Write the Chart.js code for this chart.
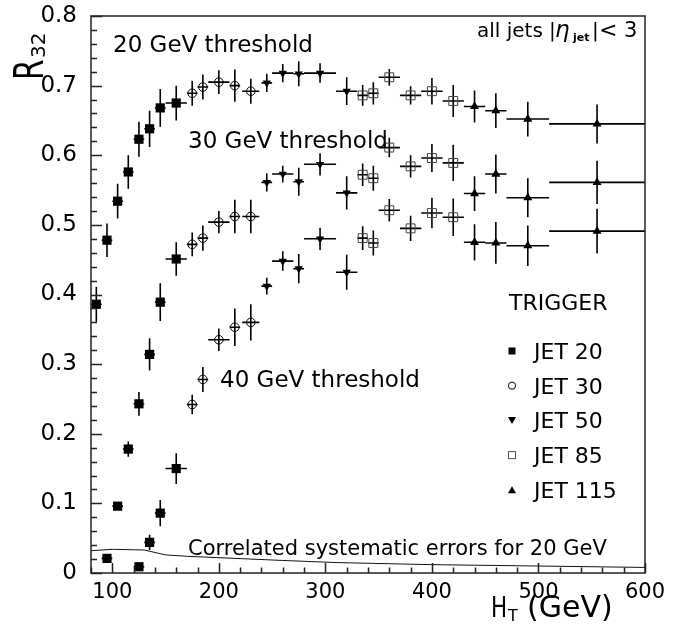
<!DOCTYPE html>
<html>
<head>
<meta charset="utf-8">
<script src="https://cdn.jsdelivr.net/npm/chart.js@4.4.1/dist/chart.umd.min.js"></script>
<style>
  html, body { margin: 0; padding: 0; background: #fff; }
  canvas { display: block; }
</style>
</head>
<body>
<canvas id="chart" width="684" height="631"></canvas>
<script>
const FONT = "DejaVu Sans";

// HT bin centres and half widths (GeV) for each trigger
const htJet20 = [85, 95, 105, 115, 125, 135, 145, 160];
const dhJet20 = [5, 5, 5, 5, 5, 5, 5, 10];
const htJet30 = [175, 185, 200, 215, 230];
const dhJet30 = [5, 5, 10, 5, 8];
const htJet50 = [245, 260, 275, 295, 320];
const dhJet50 = [5, 10, 5, 15, 10];
const htJet85 = [335, 345, 360, 380, 400, 420];
const dhJet85 = [5, 5, 10, 10, 10, 10];
const htJet115 = [440, 460, 490, 555];
const dhJet115 = [10, 10, 20, 45];

// R32 per threshold (20 / 30 / 40 GeV) and its error, null = no point
const r20Jet20 = [0.386, 0.478, 0.534, 0.576, 0.623, 0.638, 0.668, 0.675];
const e20Jet20 = [0.025, 0.024, 0.025, 0.024, 0.025, 0.026, 0.027, 0.025];
const r30Jet20 = [null, 0.021, 0.096, 0.178, 0.243, 0.314, 0.389, 0.451];
const e30Jet20 = [0, 0.003, 0.005, 0.011, 0.017, 0.023, 0.027, 0.024];
const r40Jet20 = [null, null, null, null, 0.009, 0.044, 0.086, 0.150];
const e40Jet20 = [0, 0, 0, 0, 0.003, 0.011, 0.019, 0.022];

const r20Jet30 = [0.689, 0.698, 0.705, 0.700, 0.692];
const e20Jet30 = [0.018, 0.018, 0.017, 0.023, 0.018];
const r30Jet30 = [0.472, 0.481, 0.504, 0.512, 0.512];
const e30Jet30 = [0.017, 0.018, 0.016, 0.024, 0.024];
const r40Jet30 = [0.242, 0.278, 0.335, 0.353, 0.360];
const e40Jet30 = [0.014, 0.018, 0.016, 0.027, 0.026];

const r20Jet50 = [0.704, 0.718, 0.717, 0.718, 0.692];
const e20Jet50 = [0.013, 0.013, 0.018, 0.014, 0.020];
const r30Jet50 = [0.561, 0.573, 0.562, 0.587, 0.546];
const e30Jet50 = [0.013, 0.012, 0.020, 0.016, 0.024];
const r40Jet50 = [0.412, 0.448, 0.437, 0.480, 0.432];
const e40Jet50 = [0.012, 0.014, 0.021, 0.016, 0.025];

const r20Jet85 = [0.686, 0.689, 0.712, 0.686, 0.692, 0.678];
const e20Jet85 = [0.015, 0.016, 0.012, 0.013, 0.019, 0.023];
const r30Jet85 = [0.572, 0.567, 0.611, 0.584, 0.596, 0.589];
const e30Jet85 = [0.016, 0.018, 0.014, 0.016, 0.020, 0.026];
const r40Jet85 = [0.481, 0.474, 0.521, 0.495, 0.517, 0.511];
const e40Jet85 = [0.017, 0.018, 0.016, 0.018, 0.022, 0.027];

const r20Jet115 = [0.670, 0.664, 0.652, 0.645];
const e20Jet115 = [0.023, 0.025, 0.025, 0.028];
const r30Jet115 = [0.545, 0.573, 0.539, 0.561];
const e30Jet115 = [0.025, 0.028, 0.028, 0.031];
const r40Jet115 = [0.475, 0.474, 0.470, 0.491];
const e40Jet115 = [0.026, 0.030, 0.029, 0.032];

// correlated systematic error band for the 20 GeV threshold
const sysHt = [80, 100, 130, 150, 170, 215, 260, 310, 400, 500, 600];
const sysErr = [0.032, 0.034, 0.033, 0.026, 0.024, 0.021, 0.018, 0.015, 0.012, 0.010, 0.008];

const xTicks = [100, 200, 300, 400, 500, 600];
const yTicks = [0, 0.1, 0.2, 0.3, 0.4, 0.5, 0.6, 0.7, 0.8];

const legendNames = ["JET 20", "JET 30", "JET 50", "JET 85", "JET 115"];

function pts(ht, dh, ys, es) {
  const out = [];
  ys.forEach((y, i) => {
    if (y !== null) out.push({ x: ht[i], y: y, xe: dh[i], ye: es[i] });
  });
  return out;
}

function trigger(ht, dh, a, ea, b, eb, c, ec) {
  return pts(ht, dh, a, ea).concat(pts(ht, dh, b, eb), pts(ht, dh, c, ec));
}

const jet20 = trigger(htJet20, dhJet20, r20Jet20, e20Jet20, r30Jet20, e30Jet20, r40Jet20, e40Jet20);
const jet30 = trigger(htJet30, dhJet30, r20Jet30, e20Jet30, r30Jet30, e30Jet30, r40Jet30, e40Jet30);
const jet50 = trigger(htJet50, dhJet50, r20Jet50, e20Jet50, r30Jet50, e30Jet50, r40Jet50, e40Jet50);
const jet85 = trigger(htJet85, dhJet85, r20Jet85, e20Jet85, r30Jet85, e30Jet85, r40Jet85, e40Jet85);
const jet115 = trigger(htJet115, dhJet115, r20Jet115, e20Jet115, r30Jet115, e30Jet115, r40Jet115, e40Jet115);

const errorBars = {
  id: "errorBars",
  beforeDatasetsDraw(chart) {
    const { ctx, chartArea: a, scales: { x, y } } = chart;
    ctx.save();
    ctx.beginPath();
    ctx.rect(a.left, a.top, a.right - a.left, a.bottom - a.top);
    ctx.clip();
    ctx.strokeStyle = "#000";
    ctx.lineWidth = 1.6;
    chart.data.datasets.forEach(ds => {
      if (!ds.bars) return;
      ds.data.forEach(p => {
        const px = x.getPixelForValue(p.x), py = y.getPixelForValue(p.y);
        ctx.beginPath();
        ctx.moveTo(x.getPixelForValue(p.x - p.xe), py);
        ctx.lineTo(x.getPixelForValue(p.x + p.xe), py);
        if (p.ye > 0) {
          ctx.moveTo(px, y.getPixelForValue(p.y - p.ye));
          ctx.lineTo(px, y.getPixelForValue(p.y + p.ye));
        }
        ctx.stroke();
      });
    });
    ctx.restore();
  }
};

function marker(ctx, kind, x, y) {
  ctx.save();
  ctx.fillStyle = "#000";
  ctx.strokeStyle = "#000";
  ctx.lineWidth = 1;
  ctx.beginPath();
  if (kind === 0) {
    ctx.fillRect(x - 3.5, y - 3.5, 7, 7);
  } else if (kind === 1) {
    ctx.arc(x, y, 3.6, 0, Math.PI * 2);
    ctx.stroke();
  } else if (kind === 2) {
    ctx.moveTo(x - 4, y - 3.5); ctx.lineTo(x + 4, y - 3.5); ctx.lineTo(x, y + 3.5);
    ctx.closePath(); ctx.fill();
  } else if (kind === 3) {
    ctx.strokeStyle = "#555";
    ctx.strokeRect(x - 3.5, y - 3.5, 7, 7);
  } else {
    ctx.moveTo(x - 4, y + 3.5); ctx.lineTo(x + 4, y + 3.5); ctx.lineTo(x, y - 3.5);
    ctx.closePath(); ctx.fill();
  }
  ctx.restore();
}

function text(ctx, s, x, y, size, extra) {
  ctx.font = (extra || "") + " " + size + "px '" + FONT + "'";
  ctx.fillText(s, x, y);
}

const decorations = {
  id: "decorations",
  afterDatasetsDraw(chart) {
    const { ctx, chartArea: a, scales: { x, y } } = chart;
    ctx.save();
    ctx.strokeStyle = "#222";
    ctx.lineWidth = 1.5;
    ctx.strokeRect(a.left, a.top, a.right - a.left, a.bottom - a.top);
    ctx.beginPath();
    for (let v = 80; v <= 600; v += 20) {
      const px = Math.round(x.getPixelForValue(v)) + 0.5;
      const len = v % 100 === 0 ? 10 : 5.5;
      ctx.moveTo(px, a.bottom);
      ctx.lineTo(px, a.bottom - len);
    }
    for (let k = 0; k <= 40; k++) {
      const py = Math.round(y.getPixelForValue(k * 0.02)) + 0.5;
      const len = k % 5 === 0 ? 11 : 6;
      ctx.moveTo(a.left, py);
      ctx.lineTo(a.left + len, py);
    }
    ctx.stroke();
    ctx.restore();
  },
  afterDraw(chart) {
    const ctx = chart.ctx;
    ctx.save();
    ctx.fillStyle = "#000";
    ctx.textBaseline = "alphabetic";
    ctx.textAlign = "left";

    text(ctx, "20 GeV threshold", 113, 52, 23);
    text(ctx, "30 GeV threshold", 188, 148, 23);
    text(ctx, "40 GeV threshold", 220, 387, 23);
    text(ctx, "Correlated systematic errors for 20 GeV", 188, 555, 21);

    // all jets |eta_jet| < 3
    text(ctx, "all jets", 477, 37, 20);
    text(ctx, "|", 549, 37, 20);
    text(ctx, "\u03b7", 555, 37, 23, "italic");
    text(ctx, "jet", 573, 41, 11, "bold");
    text(ctx, "|", 592, 37, 20);
    text(ctx, "<", 599, 37, 22);
    text(ctx, "3", 624, 37, 21);

    // legend
    text(ctx, "TRIGGER", 509, 310, 22);
    legendNames.forEach((name, i) => {
      const yy = 359 + i * 34.7;
      marker(ctx, i, 512, yy - 8);
      text(ctx, name, 534, yy, 22);
    });

    // y axis title R_32
    ctx.save();
    ctx.translate(43, 80);
    ctx.rotate(-Math.PI / 2);
    ctx.save();
    ctx.scale(0.74, 1);
    text(ctx, "R", 0, 0, 40);
    ctx.restore();
    text(ctx, "32", 22, 2, 20);
    ctx.restore();

    // x axis title H_T (GeV)
    ctx.save();
    ctx.translate(491, 617);
    ctx.scale(0.74, 1);
    text(ctx, "H", 0, 0, 29);
    ctx.restore();
    text(ctx, "T", 508, 621, 16);
    text(ctx, "(GeV)", 527, 617, 30);
    ctx.restore();
  }
};

new Chart(document.getElementById("chart"), {
  type: "scatter",
  data: {
    datasets: [
      { label: "sys", type: "line", data: sysHt.map((v, i) => ({ x: v, y: sysErr[i] })),
        borderColor: "#111", borderWidth: 1, pointRadius: 0, fill: false, tension: 0 },
      { label: legendNames[0], data: jet20, bars: true, pointStyle: "rect", radius: 6.5,
        backgroundColor: "#000", borderColor: "#000", borderWidth: 0 },
      { label: legendNames[1], data: jet30, bars: true, pointStyle: "circle", radius: 4.3,
        backgroundColor: "rgba(0,0,0,0)", borderColor: "#000", borderWidth: 1 },
      { label: legendNames[2], data: jet50, bars: true, pointStyle: "triangle", rotation: 180, radius: 4.8,
        backgroundColor: "#000", borderColor: "#000", borderWidth: 0 },
      { label: legendNames[3], data: jet85, bars: true, pointStyle: "rect", radius: 6.3,
        backgroundColor: "rgba(0,0,0,0)", borderColor: "#444", borderWidth: 1 },
      { label: legendNames[4], data: jet115, bars: true, pointStyle: "triangle", radius: 5.2,
        backgroundColor: "#000", borderColor: "#000", borderWidth: 0 }
    ]
  },
  options: {
    responsive: false,
    animation: false,
    devicePixelRatio: 1,
    layout: { padding: { left: 0, top: 16, right: 39, bottom: 0 } },
    plugins: { legend: { display: false }, tooltip: { enabled: false } },
    elements: { point: { hoverRadius: 0 } },
    scales: {
      x: {
        type: "linear", min: 80, max: 600,
        afterBuildTicks: s => { s.ticks = xTicks.map(v => ({ value: v })); },
        afterFit: s => { s.height = 58; s.paddingLeft = 0; s.paddingRight = 0; },
        grid: { display: false, drawTicks: false },
        border: { display: false },
        ticks: { color: "#000", padding: 7, maxRotation: 0, autoSkip: false,
                 font: { family: FONT, size: 21 } }
      },
      y: {
        type: "linear", min: 0, max: 0.8,
        afterBuildTicks: s => { s.ticks = yTicks.map(v => ({ value: v })); },
        afterFit: s => { s.width = 91; s.paddingTop = 0; s.paddingBottom = 0; },
        grid: { display: false, drawTicks: false },
        border: { display: false },
        ticks: { color: "#000", padding: 14, autoSkip: false,
                 font: { family: FONT, size: 23 },
                 callback: v => (v === 0 ? "0" : v.toFixed(1)) }
      }
    }
  },
  plugins: [errorBars, decorations]
});
</script>
</body>
</html>
